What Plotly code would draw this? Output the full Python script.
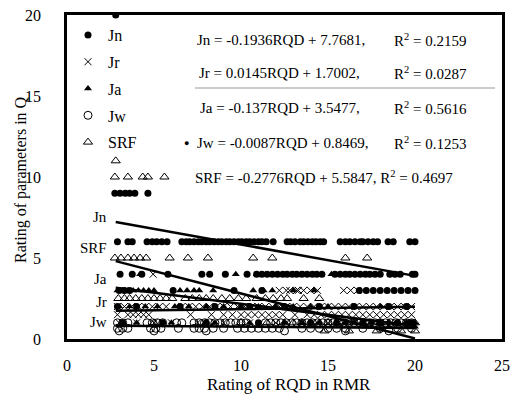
import plotly.graph_objects as go

# ---------------- data ----------------
# Jn (filled circles): x positions by rating row
jn_at_20 = [2.8]
jn_at_9 = [2.75, 3.05, 3.35, 3.6, 3.9, 4.65]
jn_at_6 = [2.9, 3.5, 3.75, 4.6, 4.9, 5.15, 5.45, 5.75, 6.6, 6.85, 7.05, 7.3, 7.55, 7.75,
           8.0, 8.2, 8.45, 8.7, 8.9, 9.15, 9.35, 9.6, 9.85, 10.05, 10.3, 10.5, 10.75, 11.0,
           11.2, 11.45, 11.85, 12.65, 12.85, 13.1, 13.4, 13.6, 13.85, 14.1, 14.3, 14.55,
           14.75, 15.7, 16.0, 16.25, 16.55, 16.85, 17.0, 17.3, 17.6, 17.85, 18.45, 18.75,
           19.7, 20.0]
jn_at_4 = [3.05, 3.75, 4.3, 5.8, 7.75, 8.2, 9.1, 10.35, 10.9, 11.2, 11.5, 11.8, 12.1,
           12.4, 12.65, 12.95, 13.2, 13.5, 13.8, 14.1, 14.35, 14.65, 15.4, 15.7, 16.0,
           16.25, 16.55, 16.85, 17.15, 17.4, 17.7, 18.0, 18.55, 18.85, 19.15, 19.85, 20.0]
jn_at_3 = [3.0, 3.3, 3.6, 6.1, 9.6, 11.2, 16.8, 17.2, 17.6, 18.0, 18.4, 18.8, 19.2,
           19.6, 20.0]
jn_at_2 = [2.9, 4.0, 6.5, 8.5, 10.5, 12.5, 14.5, 16.5, 18.5, 19.5]
jn_at_1 = [3.2, 5.5, 8.0, 11.0, 14.0, 15.5, 17.0, 18.0, 19.0, 19.8]

# Jr (crosses)
jr_at_4 = [4.95]
jr_at_3 = [12.2, 12.6, 12.8, 13.2, 13.3, 13.6, 14.0, 14.4, 15.9, 16.3, 16.7]
jr_at_2 = [2.9, 3.3, 3.7, 4.1, 4.5, 4.9, 5.3, 5.7, 6.6, 7.0, 7.4, 7.8, 8.2, 8.6, 9.0,
           9.4, 9.8, 10.2, 10.6, 11.0, 11.4, 11.8, 12.2, 12.6, 13.0, 13.4, 13.8, 14.2,
           14.6, 15.0, 15.4, 15.8, 16.2, 16.6, 17.0, 17.4, 17.8, 18.2, 18.6, 19.0, 19.4,
           19.8]
jr_at_1_5 = [2.9, 3.5, 3.8, 4.1, 4.4, 4.7, 7.1, 8.3, 9.0, 9.5, 10.0, 10.4, 10.8, 11.2,
             11.6, 12.0, 12.4, 13.1, 13.8, 14.2, 14.6, 15.0, 15.4, 15.8, 16.2, 16.6,
             17.0, 17.4, 17.8, 18.2, 18.6, 19.0, 19.4, 19.8]
jr_at_1 = [3.0, 4.0, 5.0, 6.0, 7.5, 9.0, 10.5, 12.0, 13.5, 15.0, 16.5, 18.0, 19.5]

# Ja (filled triangles)
ja_at_4 = [4.2, 9.7, 10.9, 13.6, 15.2, 17.2]
ja_at_3 = [2.9, 3.2, 3.5, 3.8, 4.1, 4.4, 4.7, 5.0, 6.5, 6.9, 7.3, 7.6, 8.4, 10.7, 11.3,
           11.8, 13.0, 14.2]
ja_at_2 = [3.0, 3.6, 4.5, 5.2, 6.2, 7.0, 8.0, 9.0, 10.0, 11.0, 12.0, 13.0, 14.0, 15.0,
           16.5, 18.0]
ja_at_1 = [4.0, 6.0, 8.5, 10.5, 12.5, 13.5, 14.5, 15.5, 16.0, 16.5, 17.0, 17.5, 18.0,
           18.5, 19.0, 19.5, 20.0]
ja_at_0_75 = [17.5, 18.5, 19.5, 20.0]

# Jw (open circles)
jw_at_1 = [2.9, 3.2, 3.5, 4.6, 4.9, 5.2, 5.5, 6.3, 6.6, 7.3, 7.6, 7.9, 8.2, 8.5, 8.8,
           9.1, 9.4, 9.7, 10.0, 10.3, 11.4, 11.7, 12.0, 12.3, 12.6, 12.9, 13.2, 13.5,
           13.8, 14.1, 14.4, 14.7, 15.0, 15.3, 15.6, 15.9, 16.2, 16.5, 16.8, 17.1, 17.4,
           17.7, 18.0, 18.3, 18.6, 18.9, 19.2, 19.5, 19.8]
jw_at_0_66 = [2.9, 3.2, 3.5, 4.8, 5.1, 5.4, 6.4, 7.3, 7.6, 7.9, 8.4, 9.0, 9.8, 10.2,
              10.6, 11.0, 11.4, 11.8, 12.2, 13.5, 14.0, 14.5, 15.0, 15.5, 16.0, 17.0,
              18.0, 19.0, 19.8]
jw_at_0_5 = [3.0, 5.0, 8.0, 12.5, 16.0, 18.5]

# SRF (open triangles)
srf_at_11 = [2.8]
srf_at_10 = [2.75, 3.5, 4.35, 4.65, 5.6]
srf_at_5 = [2.75, 3.1, 3.5, 3.85, 4.2, 4.55, 5.9, 6.95, 8.1, 10.7, 11.8, 16.0, 17.25]
srf_at_2_5 = [2.95, 3.3, 3.6, 3.95, 4.3, 4.65, 5.0, 5.35, 5.7, 6.05, 6.8, 7.2, 7.6, 8.0,
              8.4, 8.9, 9.35, 9.85, 10.3, 10.9, 11.4, 11.85, 12.3, 12.65, 13.6, 14.5]
srf_at_1 = [5.0, 8.0, 10.0, 11.5, 12.5, 13.0, 13.5, 14.0, 14.5, 15.0, 15.5, 16.0, 16.5,
            17.0, 17.5, 18.0, 18.5, 19.0, 19.5, 20.0]
srf_at_0_5 = [14.8, 16.2, 17.8, 19.2, 20.0]

# regression results printed on the chart
names = ["Jn", "Jr", "Ja", "Jw", "SRF"]
slopes = [-0.1936, 0.0145, -0.137, -0.0087, -0.2776]
intercepts = [7.7681, 1.7002, 3.5477, 0.8469, 5.5847]
r2 = [0.2159, 0.0287, 0.5616, 0.1253, 0.4697]
fit_x_range = [2.8, 20.0]

x_ticks = [0, 5, 10, 15, 20, 25]
y_ticks = [0, 5, 10, 15, 20]


def rows(*pairs):
    xs, ys = [], []
    for val, xl in pairs:
        xs += xl
        ys += [val] * len(xl)
    return xs, ys


series = {
    "Jn": rows((20, jn_at_20), (9, jn_at_9), (6, jn_at_6), (4, jn_at_4), (3, jn_at_3),
               (2, jn_at_2), (1, jn_at_1)),
    "Jr": rows((4, jr_at_4), (3, jr_at_3), (2, jr_at_2), (1.5, jr_at_1_5), (1, jr_at_1)),
    "Ja": rows((4, ja_at_4), (3, ja_at_3), (2, ja_at_2), (1, ja_at_1), (0.75, ja_at_0_75)),
    "Jw": rows((1, jw_at_1), (0.66, jw_at_0_66), (0.5, jw_at_0_5)),
    "SRF": rows((11, srf_at_11), (10, srf_at_10), (5, srf_at_5), (2.5, srf_at_2_5),
                (1, srf_at_1), (0.5, srf_at_0_5)),
}

markers = {
    "Jn": dict(symbol="circle", size=7, color="black"),
    "Jr": dict(symbol="x-thin-open", size=7, color="black", line=dict(color="black", width=1)),
    "Ja": dict(symbol="triangle-up", size=7, color="black"),
    "Jw": dict(symbol="circle-open", size=8, color="black", line=dict(color="black", width=1)),
    "SRF": dict(symbol="triangle-up-open", size=8, color="black", line=dict(color="black", width=1)),
}

FONT = "Liberation Serif"

fig = go.Figure()
for n in names:
    xs, ys = series[n]
    fig.add_trace(go.Scatter(x=xs, y=ys, mode="markers", name=n, marker=markers[n],
                             legendgroup=n, showlegend=True))

for n, m, b in zip(names, slopes, intercepts):
    fx = fit_x_range
    fy = [m * v + b for v in fx]
    fig.add_trace(go.Scatter(x=fx, y=fy, mode="lines", line=dict(color="black", width=2.5),
                             showlegend=False, hoverinfo="skip"))

# ---------------- layout ----------------
L, R, T, B = 67, 19, 15, 55
W, H = 521, 394
pw, ph = W - L - R, H - T - B


def px(x):
    return (x - L) / pw


def py(y):
    return (H - B - y) / ph


ann = []
# equations
eq_rows_y = [40, 73, 108, 143, 177]
eq_left = [195, 197, 198, 195, 193]
for i, n in enumerate(names):
    if n == "SRF":
        txt = f"{n} = {slopes[i]}RQD + {intercepts[i]}, R<sup>2</sup> = {r2[i]}"
        ann.append(dict(x=px(eq_left[i]), y=py(eq_rows_y[i]), text=txt, xanchor="left"))
    else:
        txt = f"{n} = {slopes[i]}RQD + {intercepts[i]},"
        ann.append(dict(x=px(eq_left[i]), y=py(eq_rows_y[i]), text=txt, xanchor="left"))
        ann.append(dict(x=px(392), y=py(eq_rows_y[i]), text=f"R<sup>2</sup> = {r2[i]}",
                        xanchor="left"))
ann.append(dict(x=px(186), y=py(143), text="●", xanchor="center", font=dict(size=9)))

# line labels on the left
lab_y = {"Jn": 217, "SRF": 248, "Ja": 279, "Jr": 302, "Jw": 322}
for n, yy in lab_y.items():
    ann.append(dict(x=px(109), y=py(yy), text=n, xanchor="right"))

# axis titles
ann.append(dict(x=px(289), y=py(384), text="Rating of RQD in RMR", xanchor="center",
                font=dict(size=17)))
ann.append(dict(x=px(21), y=py(180), text="Rating of parameters in Q", textangle=-90,
                xanchor="center", font=dict(size=16)))

for a in ann:
    a.setdefault("xref", "paper")
    a.setdefault("yref", "paper")
    a.setdefault("yanchor", "middle")
    a.setdefault("showarrow", False)
    f = a.get("font", {})
    f.setdefault("size", 15)
    f.setdefault("family", FONT)
    f.setdefault("color", "black")
    a["font"] = f

fig.update_layout(
    width=W, height=H,
    margin=dict(l=L, r=R, t=T, b=B, autoexpand=False),
    paper_bgcolor="white", plot_bgcolor="white",
    font=dict(family=FONT, size=15, color="black"),
    annotations=ann,
    showlegend=True,
    legend=dict(x=px(68), y=py(18), xanchor="left", yanchor="top",
                bgcolor="rgba(0,0,0,0)", font=dict(size=16, family=FONT),
                traceorder="grouped", tracegroupgap=3, itemwidth=30),
    shapes=[dict(type="line", xref="paper", yref="paper", x0=px(195), x1=px(495),
                 y0=py(88), y1=py(88), line=dict(color="#999999", width=1))],
)
fig.update_xaxes(range=[0, 25], tickvals=x_ticks, showgrid=False, zeroline=False,
                 showline=True, linecolor="black", linewidth=2.5, mirror=True,
                 ticks="", ticklabelstandoff=10, tickfont=dict(size=16, family=FONT))
fig.update_yaxes(range=[0, 20], tickvals=y_ticks, showgrid=False, zeroline=False,
                 showline=True, linecolor="black", linewidth=2.5, mirror=True,
                 ticks="", ticklabelstandoff=20, tickfont=dict(size=16, family=FONT))

fig.write_html("out.html")
